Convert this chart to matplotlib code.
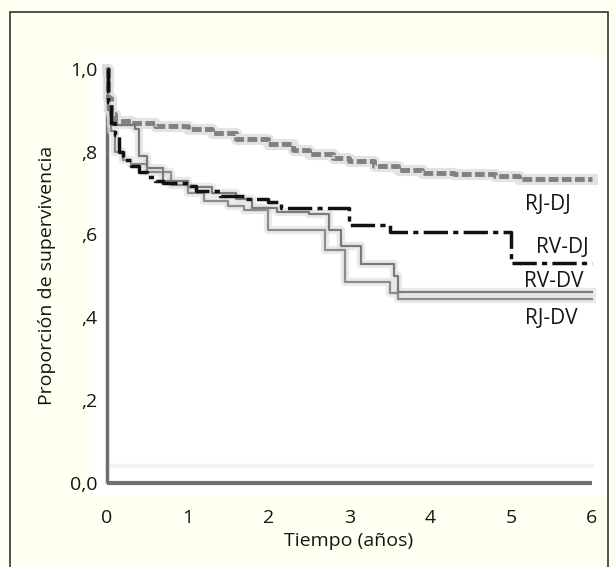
import matplotlib.pyplot as plt
from matplotlib.patches import Rectangle

# Kaplan-Meier curves (time in years, survival proportion)
rjdj_t = [0, 0.02, 0.05, 0.1, 0.3, 0.6, 1.0, 1.3, 1.6, 2.0, 2.3, 2.5, 2.8, 3.0, 3.3, 3.6, 3.9, 4.3, 4.8, 5.1, 5.5, 6.0]
rjdj_s = [1.0, 0.93, 0.89, 0.875, 0.87, 0.862, 0.855, 0.845, 0.83, 0.818, 0.805, 0.795, 0.785, 0.778, 0.765, 0.757, 0.748, 0.745, 0.742, 0.735, 0.733, 0.733]

rvdj_t = [0, 0.02, 0.05, 0.1, 0.15, 0.2, 0.3, 0.4, 0.5, 0.6, 0.7, 1.0, 1.1, 1.4, 1.7, 2.0, 2.15, 3.0, 3.5, 5.0, 6.0]
rvdj_s = [1.0, 0.92, 0.87, 0.84, 0.8, 0.78, 0.765, 0.75, 0.74, 0.73, 0.725, 0.717, 0.705, 0.694, 0.686, 0.678, 0.664, 0.624, 0.607, 0.53, 0.53]

rvdv_t = [0, 0.02, 0.05, 0.35, 0.4, 0.5, 0.7, 1.0, 1.3, 1.6, 1.8, 2.1, 2.5, 2.75, 2.9, 3.15, 3.55, 3.6, 6.0]
rvdv_s = [1.0, 0.9, 0.865, 0.855, 0.79, 0.76, 0.73, 0.715, 0.70, 0.685, 0.665, 0.655, 0.65, 0.61, 0.572, 0.528, 0.50, 0.46, 0.46]

rjdv_t = [0, 0.02, 0.05, 0.1, 0.2, 0.3, 0.5, 0.8, 1.0, 1.2, 1.5, 1.7, 2.0, 2.7, 2.95, 3.5, 3.6, 6.0]
rjdv_s = [1.0, 0.9, 0.85, 0.8, 0.78, 0.77, 0.75, 0.72, 0.70, 0.68, 0.67, 0.66, 0.61, 0.563, 0.485, 0.458, 0.445, 0.445]

labels = ["RJ-DJ", "RV-DJ", "RV-DV", "RJ-DV"]
label_x = [5.45, 5.63, 5.53, 5.50]
label_y = [0.672, 0.568, 0.487, 0.398]

xticks = [0, 1, 2, 3, 4, 5, 6]
yticks = [0.0, 0.2, 0.4, 0.6, 0.8, 1.0]
ytick_labels = ["0,0", ",2", ",4", ",6", ",8", "1,0"]

plt.rcParams['font.family'] = ['Open Sans', 'DejaVu Sans']
cream = '#fffff2'
txt = '#151515'
fs = 14

fig = plt.figure(figsize=(6.16, 5.67), dpi=100, facecolor=cream)
# frame round the figure (open at the bottom)
fig.patches.append(Rectangle((10/616, -0.05), 598/616, 1.05 - 11.5/567, transform=fig.transFigure,
                             fill=False, edgecolor='#333333', lw=1.2))

ax = fig.add_axes([0.149, 0.126, 0.833, 0.775])
ax.set_facecolor('white')
ax.set_xlim(-0.185, 6.16)
ax.set_ylim(-0.031, 1.031)
for sp in ax.spines.values():
    sp.set_visible(False)

# axes lines
ax.plot([0, 6], [0, 0], color='#6e6e6e', lw=3, zorder=2, solid_capstyle='butt')
ax.plot([0, 0], [0, 1.0], color='#6e6e6e', lw=2.5, zorder=2, solid_capstyle='butt')
ax.plot([0, 6], [0.04, 0.04], color='#f2f2f2', lw=3, zorder=1)

# curves
ax.step(rjdj_t, rjdj_s, where='post', color='#d8d8d8', lw=8, alpha=0.7, zorder=3)
ax.step(rjdj_t, rjdj_s, where='post', color='#808080', lw=3.5, ls=(0, (2, 0.7)), zorder=4)

ax.step(rjdv_t, rjdv_s, where='post', color='#dddddd', lw=6, alpha=0.6, zorder=3)
ax.step(rjdv_t, rjdv_s, where='post', color='#8c8c8c', lw=1.6, zorder=4)
ax.step(rvdv_t, rvdv_s, where='post', color='#dddddd', lw=6, alpha=0.6, zorder=3)
ax.step(rvdv_t, rvdv_s, where='post', color='#7a7a7a', lw=1.6, zorder=4)

ax.step(rvdj_t, rvdj_s, where='post', color='#111111', lw=2.5, ls=(0, (7, 1.5, 1.5, 1.5)), zorder=5)

for lab, lx, ly in zip(labels, label_x, label_y):
    ax.text(lx, ly, lab, ha='center', va='center', fontsize=15, color=txt, zorder=6)

ax.set_xticks(xticks)
ax.set_xticklabels([str(v) for v in xticks])
ax.set_yticks(yticks)
ax.set_yticklabels(ytick_labels)
ax.tick_params(axis='x', length=0, pad=10, labelsize=fs, colors=txt)
ax.tick_params(axis='y', length=0, pad=-4, labelsize=fs, colors=txt)

ax.set_xlabel("Tiempo (años)", fontsize=fs, color=txt, labelpad=3)
ax.set_ylabel("Proporción de supervivencia", fontsize=fs, color=txt, labelpad=10)

fig.savefig("out.png", dpi=100, facecolor=cream)
